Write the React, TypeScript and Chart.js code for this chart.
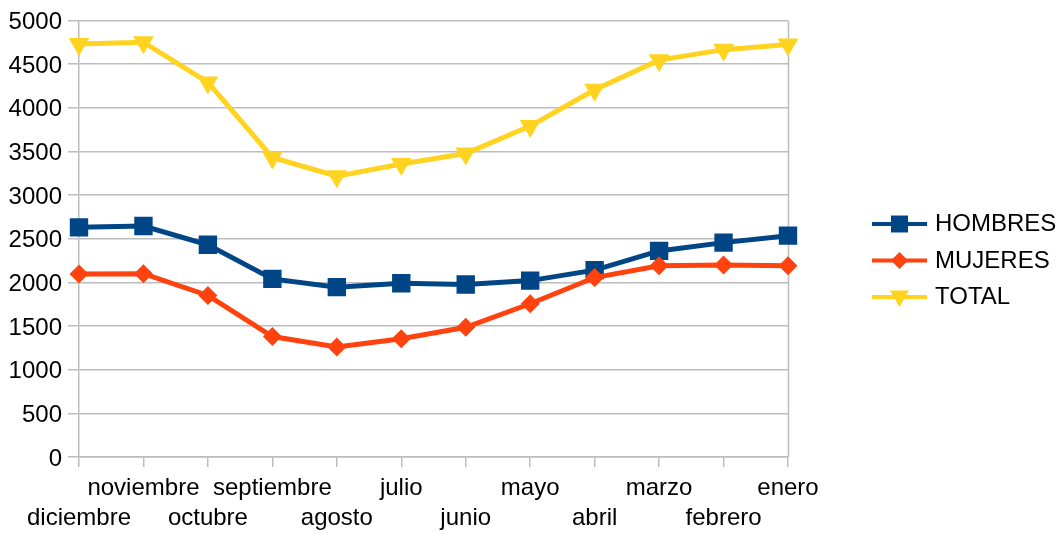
import React, { useEffect, useRef } from 'react';
import { Chart, registerables } from 'chart.js';

Chart.register(...registerables);

const categories = ['diciembre', 'noviembre', 'octubre', 'septiembre', 'agosto', 'julio', 'junio', 'mayo', 'abril', 'marzo', 'febrero', 'enero'];
const hombres = [2630, 2645, 2430, 2040, 1945, 1990, 1975, 2020, 2140, 2360, 2455, 2535];
const mujeres = [2095, 2100, 1850, 1380, 1260, 1355, 1485, 1755, 2055, 2190, 2200, 2190];
const total = [4730, 4750, 4290, 3430, 3215, 3355, 3475, 3790, 4205, 4545, 4665, 4725];
const seriesNames = ['HOMBRES', 'MUJERES', 'TOTAL'];

const FONT = "'Liberation Sans', Arial, sans-serif";
const GRID = '#bdbdbd';
const BLUE = '#004586';
const ORANGE = '#ff420e';
const YELLOW = '#ffd320';

function drawMarker(ctx: CanvasRenderingContext2D, style: string, x: number, y: number, r: number, color: string) {
  ctx.save();
  ctx.fillStyle = color;
  ctx.beginPath();
  if (style === 'rect') {
    const s = Math.SQRT1_2 * r;
    ctx.rect(x - s, y - s, 2 * s, 2 * s);
  } else if (style === 'rectRot') {
    ctx.moveTo(x - r, y);
    ctx.lineTo(x, y - r);
    ctx.lineTo(x + r, y);
    ctx.lineTo(x, y + r);
    ctx.closePath();
  } else {
    const h = r * Math.sqrt(3) / 2;
    ctx.moveTo(x - h, y - r / 2);
    ctx.lineTo(x + h, y - r / 2);
    ctx.lineTo(x, y + r);
    ctx.closePath();
  }
  ctx.fill();
  ctx.restore();
}

const sidePlugin = {
  id: 'sideLegendAndBorder',
  beforeDatasetsDraw(chart: any) {
    const { ctx, chartArea } = chart;
    ctx.save();
    ctx.strokeStyle = GRID;
    ctx.lineWidth = 1.5;
    ctx.beginPath();
    const x = Math.round(chartArea.right) + 0.5;
    ctx.moveTo(x, chartArea.top);
    ctx.lineTo(x, chartArea.bottom);
    ctx.stroke();
    ctx.restore();
  },
  afterDraw(chart: any) {
    const { ctx } = chart;
    const ys = [224, 260.5, 297];
    chart.data.datasets.forEach((ds: any, i: number) => {
      const y = ys[i];
      ctx.save();
      ctx.strokeStyle = ds.borderColor;
      ctx.lineWidth = 4;
      ctx.beginPath();
      ctx.moveTo(872, y);
      ctx.lineTo(927, y);
      ctx.stroke();
      ctx.restore();
      const style = ds.pointStyle;
      const r = style === 'rect' ? 12 : style === 'rectRot' ? 8.5 : 11;
      drawMarker(ctx, style, 899.5, style === 'triangle' ? y - 1 : y, r, ds.borderColor);
      ctx.save();
      ctx.fillStyle = '#000';
      ctx.font = `24px ${FONT}`;
      ctx.textBaseline = 'middle';
      ctx.textAlign = 'left';
      ctx.fillText(ds.label, 935, y + 0.5);
      ctx.restore();
    });
  },
};

export default function App() {
  const ref = useRef<HTMLCanvasElement | null>(null);

  useEffect(() => {
    if (!ref.current) return;
    const chart = new Chart(ref.current, {
      type: 'line',
      data: {
        labels: categories,
        datasets: [
          {
            label: seriesNames[0],
            data: hombres,
            borderColor: BLUE,
            backgroundColor: BLUE,
            borderWidth: 5,
            pointStyle: 'rect',
            pointRadius: 13,
            pointBorderWidth: 0,
            pointBackgroundColor: BLUE,
            order: 3,
          },
          {
            label: seriesNames[1],
            data: mujeres,
            borderColor: ORANGE,
            backgroundColor: ORANGE,
            borderWidth: 5,
            pointStyle: 'rectRot',
            pointRadius: 9.5,
            pointBorderWidth: 0,
            pointBackgroundColor: ORANGE,
            order: 2,
          },
          {
            label: seriesNames[2],
            data: total,
            borderColor: YELLOW,
            backgroundColor: YELLOW,
            borderWidth: 5,
            pointStyle: 'triangle',
            pointRotation: 180,
            pointRadius: 12,
            pointBorderWidth: 0,
            pointBackgroundColor: YELLOW,
            order: 1,
          },
        ],
      },
      options: {
        responsive: false,
        animation: false,
        layout: { padding: { top: 19, right: 273, left: 0, bottom: 0 } },
        plugins: {
          legend: { display: false },
          tooltip: { enabled: false },
        },
        scales: {
          x: {
            offset: false,
            grid: {
              display: true,
              drawOnChartArea: false,
              drawTicks: true,
              tickLength: 10,
              color: GRID,
              lineWidth: 1.5,
            },
            border: { display: true, color: GRID, width: 1.5 },
            ticks: {
              autoSkip: false,
              maxRotation: 0,
              minRotation: 0,
              padding: 6,
              color: '#000',
              font: { family: FONT, size: 24, lineHeight: 1.25 },
              callback: function (this: any, _v: any, index: number) {
                const lbl = categories[index];
                return index % 2 === 0 ? ['', lbl] : [lbl];
              },
            },
            afterFit: (scale: any) => {
              scale.height = 77;
            },
          },
          y: {
            min: 0,
            max: 5000,
            grid: {
              color: GRID,
              lineWidth: 1.5,
              drawTicks: true,
              tickLength: 11,
            },
            border: { display: true, color: GRID, width: 1.5 },
            ticks: {
              stepSize: 500,
              padding: 6,
              labelOffset: 2,
              color: '#000',
              font: { family: FONT, size: 24 },
              callback: (v: any) => String(v),
            },
            afterFit: (scale: any) => {
              scale.width = 79;
            },
          },
        },
      },
      plugins: [sidePlugin],
    });
    return () => chart.destroy();
  }, []);

  return (
    <div style={{ position: 'fixed', left: 0, top: 0, width: 1061, height: 534, background: '#fff' }}>
      <canvas ref={ref} width={1061} height={534} />
    </div>
  );
}
